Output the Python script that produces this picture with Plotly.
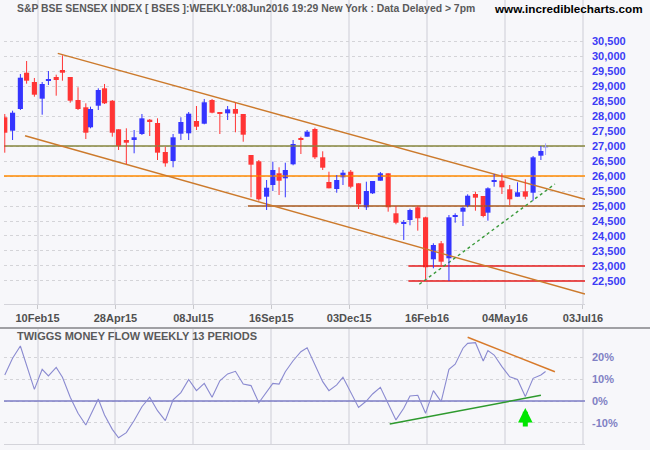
import numpy as np
import plotly.graph_objects as go

# ---------------- data ----------------
week_end = [
    "2015-01-09", "2015-01-16", "2015-01-23", "2015-01-30", "2015-02-06", "2015-02-13", "2015-02-20",
    "2015-02-27", "2015-03-05", "2015-03-13", "2015-03-20", "2015-03-27", "2015-04-01", "2015-04-10",
    "2015-04-17", "2015-04-24", "2015-04-30", "2015-05-08", "2015-05-15", "2015-05-22", "2015-05-29",
    "2015-06-05", "2015-06-12", "2015-06-19", "2015-06-26", "2015-07-03", "2015-07-10", "2015-07-17",
    "2015-07-24", "2015-07-31", "2015-08-07", "2015-08-14", "2015-08-21", "2015-08-28", "2015-09-04",
    "2015-09-11", "2015-09-18", "2015-09-24", "2015-10-01", "2015-10-09", "2015-10-16", "2015-10-23",
    "2015-10-30", "2015-11-06", "2015-11-13", "2015-11-20", "2015-11-27", "2015-12-04", "2015-12-11",
    "2015-12-18", "2015-12-24", "2016-01-01", "2016-01-08", "2016-01-15", "2016-01-22", "2016-01-29",
    "2016-02-05", "2016-02-12", "2016-02-19", "2016-02-26", "2016-03-04", "2016-03-11", "2016-03-18",
    "2016-03-23", "2016-04-01", "2016-04-08", "2016-04-13", "2016-04-22", "2016-04-29", "2016-05-06",
    "2016-05-13", "2016-05-20", "2016-05-27", "2016-06-03", "2016-06-08",
]
opens = [27957, 27510, 28233, 29443, 29133, 28577, 29167, 29300, 29533, 29300, 28533, 28290, 27623, 28343,
         28923, 28510, 27557, 27200, 27233, 27400, 27877, 27767, 26800, 26500, 27410, 27423, 27833, 27743,
         28533, 28123, 28090, 28233, 28067, 26700, 26490, 25310, 25700, 26090, 25923, 26390, 27243, 27310,
         27567, 26623, 25800, 25567, 25957, 26143, 25757, 24957, 25423, 25843, 26090, 24757, 24410, 24533,
         24957, 24623, 23223, 23757, 23257, 24643, 24810, 25000, 25400, 25333, 24777, 25810, 25843, 25557,
         25310, 25490, 25443, 26677, 26943]
highs = [28067, 28177, 29400, 29833, 29267, 29133, 29500, 29377, 30023, 29300, 28957, 28423, 28310, 28923,
         29067, 28533, 27557, 27590, 27533, 28067, 27900, 27923, 26977, 27400, 27957, 28133, 28333, 28567,
         28567, 28123, 28333, 28443, 28067, 26700, 26533, 25867, 26477, 26290, 26443, 27200, 27310, 27533,
         27610, 26823, 26143, 26033, 26200, 26200, 25757, 25810, 25833, 26133, 26090, 25000, 24533, 24910,
         25000, 24643, 23757, 23833, 24700, 24757, 24977, 25390, 25477, 25333, 25623, 26067, 26090, 25700,
         25790, 25890, 26667, 27000, 27090]
lows = [26777, 27200, 28200, 29077, 28643, 28043, 29033, 28677, 29177, 28443, 28200, 27233, 27590, 28200,
        28400, 27310, 26867, 26400, 26757, 27367, 27333, 26533, 26310, 26290, 27200, 27200, 27533, 27723,
        28090, 27400, 27867, 27457, 27143, 25290, 25177, 24867, 25500, 25367, 25290, 26357, 26733, 27310,
        26567, 26200, 25590, 25443, 25700, 25590, 24900, 24867, 25400, 25843, 24810, 24390, 23867, 24357,
        24177, 22567, 22923, 22977, 22500, 24443, 24333, 24957, 24843, 24623, 24510, 25643, 25400, 25033,
        25310, 25223, 25177, 26533, 26700]
closes = [27443, 28110, 29277, 29177, 28710, 29067, 29233, 29200, 29443, 28510, 28233, 27443, 28233, 28867,
          28423, 27443, 27000, 27110, 27290, 27923, 27823, 26777, 26423, 27290, 27800, 28077, 27643, 28457,
          28110, 28090, 28223, 28077, 27377, 26377, 25223, 25610, 26200, 25843, 26200, 27067, 27200, 27477,
          26623, 26277, 25590, 25867, 26110, 25643, 25057, 25500, 25833, 26090, 24957, 24443, 24443, 24867,
          24590, 22957, 23700, 23143, 24623, 24700, 24943, 25343, 25277, 24667, 25590, 25833, 25623, 25223,
          25457, 25310, 26623, 26833, 27010]
tmf = [11.8, 19.4, 25.0, 16.4, 5.3, 14.4, 11.4, 15.3, 10.8, 1.7, -5.6, -10.9, -6.5, 0.9, -6.4, -12.9,
       -16.7, -14.4, -8.9, -2.6, 1.7, -4.4, -8.9, 0.5, 3.8, 9.8, 4.7, 8.0, 1.7, 9.2, 12.3, 13.5, 7.7, 7.0,
       -0.8, 3.8, 8.0, 7.7, 13.3, 18.3, 22.4, 24.2, 16.4, 8.8, 4.7, 7.3, 10.8, 3.8, -2.9, 0.0, 3.2, 6.2,
       -1.1, -8.6, -3.3, 2.3, 2.6, -5.6, 4.7, -0.3, 14.4, 16.7, 24.0, 26.2, 26.5, 18.2, 22.9, 20.9, 15.6,
       11.0, 9.8, 2.0, 10.3, 11.8, 13.4]
holidays = ["2015-01-26", "2015-02-17", "2015-03-06", "2015-04-02", "2015-04-03", "2015-04-14",
            "2015-05-01", "2015-09-17", "2015-09-25", "2015-10-02", "2015-10-22", "2015-11-12",
            "2015-11-25", "2015-12-25", "2016-01-26", "2016-03-07", "2016-03-24", "2016-03-25",
            "2016-04-14", "2016-04-15", "2016-04-19"]
tick_labels = ["10Feb15", "28Apr15", "08Jul15", "16Sep15", "03Dec15", "16Feb16", "04May16", "03Jul16"]
price_ticks = list(range(22500, 30501, 500))
tmf_ticks = [-10, 0, 10, 20]

# horizontal support / resistance levels: (value, start date or None = full width, colour)
levels = [(27000, None, "#86863c"), (26000, None, "#ff8a00"), (25000, "2015-08-26", "#a8581c"),
          (23000, "2016-01-28", "#e41a1a"), (22500, "2016-01-28", "#e41a1a")]
# trend lines: (start date, start value, end date or "edge", end value)
price_trends = [("2015-03-02", 30090, "edge", 25223, "#cc7a2c", "solid"),
                ("2015-01-29", 27343, "edge", 22067, "#cc7a2c", "solid"),
                ("2016-02-08", 22390, "2016-06-16", 25733, "#3a9a3a", "dot")]
tmf_trends = [("2016-03-23", 28.95, "2016-06-16", 13.3, "#d87a2a"),
              ("2016-01-11", -10.45, "2016-06-03", 2.6, "#2e9a2e")]

# ---------------- helpers ----------------
HOL = np.array(holidays, dtype="datetime64[D]")
START = np.datetime64(week_end[0])


def tday(d):
    return int(np.busday_count(START, np.datetime64(d), holidays=HOL))


XMIN, XMAX = -0.5, 372.3
xd = np.array([tday(d) for d in week_end], dtype=float)
o = np.array(opens, float); h = np.array(highs, float)
l = np.array(lows, float); c = np.array(closes, float)

RED, BLUE, LAST = "#ff3535", "#3535ff", "#a8a8ff"
cols = [BLUE if cc >= oo else RED for oo, cc in zip(o, c)]
cols[-1] = LAST

first_tick = tday("2015-02-10")
tickvals = [first_tick + 50 * k for k in range(len(tick_labels))]

fig = go.Figure()

# levels
for val, start, col in levels:
    x0 = XMIN if start is None else tday(start)
    fig.add_trace(go.Scatter(x=[x0, XMAX], y=[val, val], mode="lines",
                             line=dict(color=col, width=1.6), hoverinfo="skip", showlegend=False))
# trend lines
for s, sv, e, ev, col, dash in price_trends:
    x1 = XMAX if e == "edge" else tday(e)
    fig.add_trace(go.Scatter(x=[tday(s), x1], y=[sv, ev], mode="lines",
                             line=dict(color=col, width=1.4, dash=dash), hoverinfo="skip", showlegend=False))

# wicks
for colr in (RED, BLUE, LAST):
    wx, wy = [], []
    for i in range(len(xd)):
        if cols[i] == colr:
            wx += [xd[i], xd[i], None]
            wy += [l[i], h[i], None]
    fig.add_trace(go.Scatter(x=wx, y=wy, mode="lines", line=dict(color=colr, width=1),
                             hoverinfo="skip", showlegend=False))
# bodies
body = np.maximum(np.abs(c - o), 40)
fig.add_trace(go.Bar(x=xd, y=body, base=np.minimum(o, c), width=3.3,
                     marker=dict(color=cols, line_width=0), hoverinfo="skip", showlegend=False))

# lower panel
fig.add_trace(go.Scatter(x=[XMIN, XMAX], y=[0, 0], mode="lines", xaxis="x2", yaxis="y2",
                         line=dict(color="#7c7cc6", width=1.5), hoverinfo="skip", showlegend=False))
fig.add_trace(go.Scatter(x=xd, y=tmf, mode="lines", xaxis="x2", yaxis="y2",
                         line=dict(color="#8a8ad0", width=1.1), hoverinfo="skip", showlegend=False))
for s, sv, e, ev, col in tmf_trends:
    fig.add_trace(go.Scatter(x=[tday(s), tday(e)], y=[sv, ev], mode="lines", xaxis="x2", yaxis="y2",
                             line=dict(color=col, width=1.5), hoverinfo="skip", showlegend=False))

BG = "#f7f7fa"
FONT = "Liberation Sans, Arial, sans-serif"
H = 450.0
grid_x = dict(range=[XMIN, XMAX], tickmode="array", tickvals=tickvals, showgrid=True,
              gridcolor="#e2e2e8", gridwidth=1.5, zeroline=False, showline=True, mirror=True,
              linecolor="#d4d4da", linewidth=1)
fig.update_layout(
    width=650, height=450, margin=dict(l=4, r=65, t=0, b=0),
    paper_bgcolor=BG, plot_bgcolor=BG, barmode="overlay", showlegend=False,
    xaxis=dict(**grid_x, domain=[0, 1], anchor="y", ticktext=tick_labels, ticks="outside", ticklen=4,
               tickcolor="#c8c8cc",
               tickfont=dict(family=FONT, size=11, color="#505050", weight="bold")),
    yaxis=dict(domain=[1 - 304 / H, 1], range=[21733, 31867], side="right", anchor="x",
               tickmode="array", tickvals=price_ticks, ticktext=[f"{v:,}" for v in price_ticks],
               showgrid=True, gridcolor="#d4d4d8", griddash="dot", gridwidth=1, zeroline=False,
               ticks="", ticklabelstandoff=6,
               tickfont=dict(family=FONT, size=11, color="#3c3cf5", weight="bold")),
    xaxis2=dict(**grid_x, domain=[0, 1], anchor="y2", ticktext=[""] * len(tick_labels),
                showticklabels=False),
    yaxis2=dict(domain=[1 - 444 / H, 1 - 329 / H], range=[-19.55, 32.73], side="right", anchor="x2",
                tickmode="array", tickvals=tmf_ticks, ticktext=[f"{v}%" for v in tmf_ticks],
                showgrid=True, gridcolor="#d4d4d8", griddash="dot", gridwidth=1, zeroline=False,
                ticks="", ticklabelstandoff=6,
                tickfont=dict(family=FONT, size=11, color="#8080c4", weight="bold")),
)

PW = 581.0
fig.add_shape(type="line", xref="paper", yref="paper", x0=-4 / PW, x1=1 + 65 / PW,
              y0=1 - 328 / H, y1=1 - 328 / H, line=dict(color="#a0a0a4", width=2))

fig.add_annotation(xref="paper", yref="paper", x=11 / PW, y=1 - 8 / H, xanchor="left", yanchor="middle",
                   text="S&P BSE SENSEX INDEX [ BSES ]:WEEKLY:08Jun2016 19:29 New York : Data Delayed > 7pm",
                   showarrow=False, font=dict(family=FONT, size=10.4, color="#5a5a5a", weight="bold"))
fig.add_annotation(xref="paper", yref="paper", x=641 / PW, y=1 - 8 / H, xanchor="right", yanchor="middle",
                   text="www.incrediblecharts.com", showarrow=False,
                   font=dict(family=FONT, size=11.7, color="#000000", weight="bold"))
fig.add_annotation(xref="paper", yref="paper", x=11 / PW, y=1 - 336 / H, xanchor="left", yanchor="middle",
                   text="TWIGGS MONEY FLOW WEEKLY 13 PERIODS", showarrow=False,
                   font=dict(family=FONT, size=11, color="#5a5a5a", weight="bold"))
fig.add_annotation(xref="x2", yref="y2", x=xd[71], y=-3.2, ax=0, ay=20, showarrow=True,
                   arrowhead=2, arrowsize=0.58, arrowwidth=5, arrowcolor="#00e600", text="")

fig.write_html("out.html")
